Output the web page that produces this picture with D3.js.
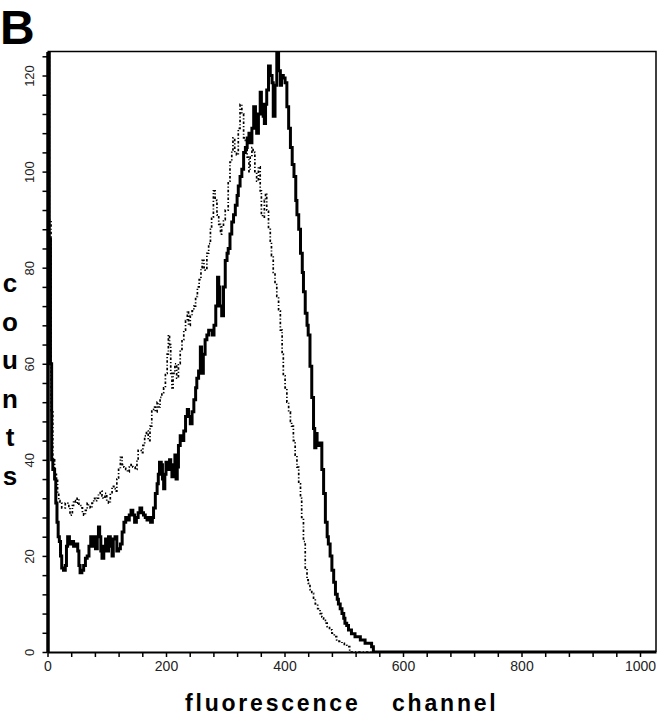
<!DOCTYPE html>
<html>
<head>
<meta charset="utf-8">
<script src="https://cdn.jsdelivr.net/npm/d3@7"></script>
<style>
  body { margin: 0; background: #fff; }
  svg { display: block; }
</style>
</head>
<body>
<div id="chart"></div>
<script>
// Chart size
const width = 660;
const height = 720;

// Solid histogram (thick line): channel, counts
const solidChannels = [0,3,5,7,9,12,14,16,18,20,22,24,27,30,32,34,37,40,44,48,51,53,55,58,61,64,67,70,73,76,78,81,84,86,88,90,92,95,98,100,103,106,109,111,114,117,120,123,126,129,132,135,138,141,144,147,150,153,156,159,162,165,168,171,174,177,179,182,185,187,189,192,194,196,198,200,203,206,208,210,213,215,217,219,221,224,227,230,233,236,238,241,244,247,250,252,255,258,260,263,266,269,272,275,278,281,284,287,289,291,294,297,300,303,305,308,311,314,317,320,322,325,328,331,334,337,340,342,345,348,351,353,356,359,361,364,366,368,370,373,376,379,381,384,387,390,393,395,398,401,404,407,410,413,416,419,421,424,427,430,432,435,438,440,443,446,449,451,453,455,458,460,463,466,469,472,474,477,480,483,486,489,491,494,497,500,502,505,508,513,519,528,536,547,550,1027];
const solidCounts = [130,86,60,40,38,36,31,27,24,23,20,17.5,17,18,22,24,22.5,23,22,22.5,21,18,16.5,17,18,19.5,20,22,24,22,24,21.5,24,26,24,21,19.5,22,23.5,21,24,22,20,23.5,24,21,21.5,22.5,25,27,28,27.5,28.5,29.5,28.5,27,28,29,30,29,28.5,28,27.5,28,27,28,30,33,35,37,39.5,39,36,34,37,39.5,38,40,38.5,36.5,39,41,36,38.5,43,45,44,46,49,50.5,49,47.5,50,52.5,55,57,58.5,63.5,58,62,65,66,67,67,66,68,72,78,76,72,70,76,81.5,83,84,87,89.5,91,93,95,97,99,100.5,104,105,107,108,106,109,113.5,111,108,112,116.5,114,111.5,110,114,117,122,120,118.5,111.5,118,125,121,118,120,119.5,118.5,113.5,109,105,101.5,99,94,91,88,83,79,75,70.5,68,66,59.5,53,46.5,42.5,45.5,43,43,43.5,38,33,27,24,22.5,20,17,14.5,12,11,10,9,8,7,6,5.5,4.6,3.8,3.2,2.5,1.8,1.1,0,0];

// Dotted histogram (thin dash-dot line): channel, counts
const dottedChannels = [0,3,6,9,12,15,17,19,21,24,27,30,33,36,38,40,42,44,47,50,53,56,59,61,64,67,69,72,75,78,80,83,86,89,92,94,97,100,103,106,109,112,114,117,120,123,126,129,132,135,138,141,144,148,151,153,156,158,161,164,167,170,173,176,179,182,185,187,190,193,196,199,202,204,206,208,210,212,215,218,221,224,227,230,233,236,238,241,244,247,250,253,256,259,261,264,266,269,272,275,277,280,283,286,289,292,294,297,300,303,305,308,311,313,316,319,322,325,328,331,334,337,340,342,345,347,350,353,356,359,361,363,366,368,370,373,376,378,381,384,387,390,393,396,398,401,404,407,410,412,415,418,421,424,427,429,432,435,438,440,443,446,449,452,456,460,463,466,469,472,476,480,484,488,492,497,501,505,510,1027];
const dottedCounts = [130,90,50,40,37,36,33,31.5,31,30,30,31,31,30,28.5,29,30.5,31.5,31,32,30.5,30,29,28.5,29.5,31,30.5,30,31,32,31.5,32,33,33.5,32.5,32,33,31.5,31,33,34.5,34,33.5,36,38,40.5,39,38.5,38,37.5,38.5,39,38.5,38,40,42,42,41.5,43,45,46,44,47,50.5,51,50,52,51,53,54,55,58,62,66,64,58,55,58,60,57,60,63,65,67,69,71,68,70,71,72,74,76,77.5,80,81.5,80,79.5,83,85,88,90.5,96,94,91,89,87,88.5,90,92,92,98,102,104.5,107,104,103.5,109,114,112,107,106.5,103,100,103,105,104,100,98,101,96,91,90.5,94,95.5,92,88,85.5,82.5,79,76.5,74,71,67,62,57.5,55,52,50,48,47,44,41,38.5,35,32,28,23,17.5,15,14.3,13,12.2,11,10,9,8,7.3,6.6,6,5.3,4.6,3.9,3.2,2.5,2.2,1.8,1.4,1.1,0,0];

// Axis ticks
const xTickValues = d3.range(0, 1001, 40);
const xTickLabels = [0, 200, 400, 600, 800, 1000];
const yTickValues = d3.range(0, 125, 4);
const yTickLabels = [0, 20, 40, 60, 80, 100, 120];

// Plot area
const plotLeft = 47.5, plotRight = 656, plotTop = 51.5, plotBottom = 652;

const x = d3.scaleLinear().domain([0, 1027]).range([plotLeft, plotRight]);
const y = d3.scaleLinear().domain([0, 125]).range([plotBottom, plotTop]);

const svg = d3.select("#chart").append("svg")
              .attr("width", width)
              .attr("height", height)
              .style("font-family", "'Liberation Sans', Arial, sans-serif");

svg.append("clipPath").attr("id", "plot-clip")
   .append("rect")
   .attr("x", plotLeft).attr("y", plotTop)
   .attr("width", plotRight - plotLeft).attr("height", plotBottom - plotTop);

// Histograms
const line = d3.line()
               .x(d => x(d[0]))
               .y(d => y(d[1]))
               .curve(d3.curveStepAfter);

const solid = solidChannels.map((c, i) => [c, solidCounts[i]]);
const dotted = dottedChannels.map((c, i) => [c, dottedCounts[i]]);

const plot = svg.append("g").attr("clip-path", "url(#plot-clip)");

plot.append("path")
    .datum(dotted)
    .attr("fill", "none")
    .attr("stroke", "#000")
    .attr("stroke-width", 1.7)
    .attr("stroke-dasharray", "2.5,2,1.2,2")
    .attr("d", line);

plot.append("path")
    .datum(solid)
    .attr("fill", "none")
    .attr("stroke", "#000")
    .attr("stroke-width", 3)
    .attr("stroke-linejoin", "miter")
    .attr("d", line);

// Frame (top and right)
svg.append("path")
   .attr("d", `M${plotLeft},${plotTop}H${plotRight}V${plotBottom}`)
   .attr("fill", "none")
   .attr("stroke", "#000")
   .attr("stroke-width", 1.5);

// X axis
const xAxis = svg.append("g")
   .attr("transform", `translate(0,${plotBottom})`)
   .call(d3.axisBottom(x)
           .tickValues(xTickValues)
           .tickSize(5)
           .tickSizeOuter(0)
           .tickFormat(d => xTickLabels.includes(d) ? d : ""));

xAxis.select(".domain").attr("stroke", "#000").attr("stroke-width", 2);
xAxis.selectAll(".tick line").attr("stroke", "#000").attr("stroke-width", 1.5);
xAxis.selectAll(".tick text")
     .attr("y", 9)
     .attr("font-size", 14)
     .attr("fill", "#222");

// Y axis
const yAxis = svg.append("g")
   .attr("transform", `translate(${plotLeft},0)`)
   .call(d3.axisLeft(y)
           .tickValues(yTickValues)
           .tickSize(5)
           .tickSizeOuter(0)
           .tickFormat(d => yTickLabels.includes(d) ? d : ""));

yAxis.select(".domain").attr("stroke", "#000").attr("stroke-width", 3.5);
yAxis.selectAll(".tick line").attr("stroke", "#000").attr("stroke-width", 1.5);
yAxis.selectAll(".tick text")
     .attr("x", null)
     .attr("dy", null)
     .attr("transform", "translate(-14,0) rotate(-90)")
     .attr("text-anchor", "middle")
     .attr("font-size", 13)
     .attr("fill", "#222");

// Panel letter
svg.append("text")
   .attr("x", 0)
   .attr("y", 44)
   .attr("font-size", 48)
   .attr("font-weight", "bold")
   .text("B");

// Y title, one letter per line
const yTitle = "counts".split("");
svg.selectAll(".ylet")
   .data(yTitle)
   .enter()
   .append("text")
   .attr("class", "ylet")
   .attr("x", 10)
   .attr("y", (d, i) => 292 + i * 38.6)
   .attr("text-anchor", "middle")
   .attr("font-size", 26)
   .attr("font-weight", "bold")
   .text(d => d);

// X title
svg.append("text")
   .attr("x", 185)
   .attr("y", 711)
   .attr("font-size", 23)
   .attr("font-weight", "bold")
   .attr("letter-spacing", 2.8)
   .text("fluorescence");

svg.append("text")
   .attr("x", 392)
   .attr("y", 711)
   .attr("font-size", 23)
   .attr("font-weight", "bold")
   .attr("letter-spacing", 2.8)
   .text("channel");
</script>
</body>
</html>
